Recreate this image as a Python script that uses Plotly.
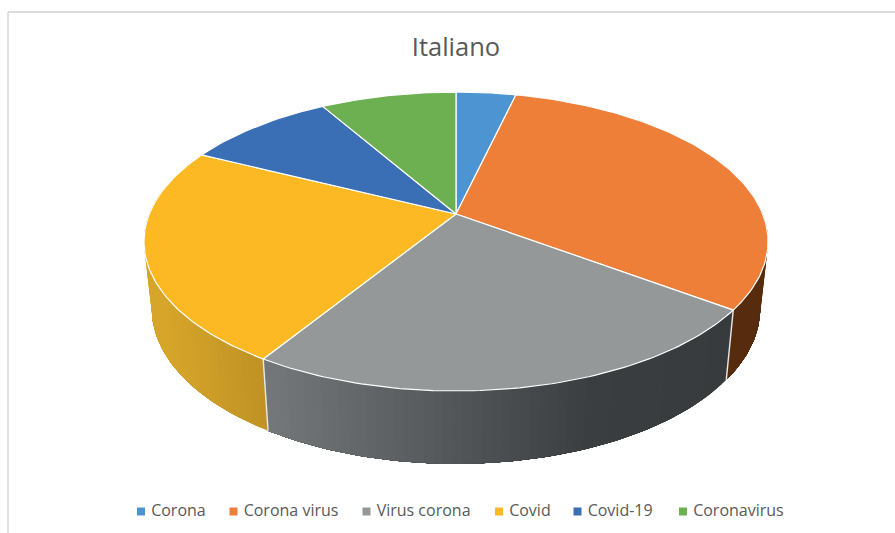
import numpy as np
import plotly.graph_objects as go

# Share of mentions per term
labels = ["Corona", "Corona virus", "Virus corona", "Covid", "Covid-19", "Coronavirus"]
values = [3.7, 31.4, 23.8, 23.4, 9.3, 8.4]
top_colors = ["#4c94d2", "#ee7f38", "#959898", "#fdb924", "#3a6eb5", "#6db052"]

# Side-wall shading, first stop at the clockwise start of each slice
wall_stops = {
    "Corona virus": [(0.0, "#572c0e"), (1.0, "#572c0e")],
    "Virus corona": [(0.0, "#373b3d"), (0.3, "#3b3e40"), (1.0, "#74787a")],
    "Covid": [(0.0, "#bf9224"), (1.0, "#d6a52a")],
}

# Legend layout: swatch positions in page pixels
legend_swatch_x = [141, 233.5, 366.5, 499, 577.5, 683]
legend_y = 511.5

# Perspective projection of the pie disc onto the page
CX, CY = 456.0, 214.0
RX, RY = 306.7, 144.4
PERSP = 0.184
BASE_CY, BASE_RX, BASE_RY = 280.0, 299.0, 150.0


def project(theta, cy=CY, rx=RX, ry=RY):
    """Clockwise angle from 12 o'clock to a point on a rim."""
    w = 1 + PERSP * np.cos(theta)
    return CX + rx * np.sin(theta) / w, cy - ry * np.cos(theta) / w


def project_base(theta):
    return project(theta, BASE_CY, BASE_RX, BASE_RY)


def hex_rgb(h):
    return np.array([int(h[i:i + 2], 16) for i in (1, 3, 5)], dtype=float)


def shade(stops, t):
    for (t0, c0), (t1, c1) in zip(stops, stops[1:]):
        if t <= t1:
            f = (t - t0) / (t1 - t0)
            r, g, b = hex_rgb(c0) * (1 - f) + hex_rgb(c1) * f
            return f"rgb({r:.0f},{g:.0f},{b:.0f})"
    r, g, b = hex_rgb(stops[-1][1])
    return f"rgb({r:.0f},{g:.0f},{b:.0f})"


shares = np.array(values) / sum(values)
edges = np.concatenate([[0], np.cumsum(shares)]) * 2 * np.pi
WALL_FROM, WALL_TO = np.radians(80), np.radians(280)

fig = go.Figure()

# Side walls: each narrow quad runs on to the end of the slice and the next one
# paints over it, which keeps the shading free of hairline gaps
for i, name in enumerate(labels):
    if name not in wall_stops:
        continue
    a0, a1 = max(edges[i], WALL_FROM), min(edges[i + 1], WALL_TO)
    steps = max(2, int(np.degrees(a1 - a0) / 1.5))
    cuts = np.linspace(a0, a1, steps + 1)
    xa, xb = project(a0)[0], project(a1)[0]
    for t0, t1 in zip(cuts, cuts[1:]):
        arc = np.linspace(t0, a1, max(2, int(np.degrees(a1 - t0)) + 2))
        tx, ty = project(arc)
        bx, by = project_base(arc)
        t = abs((project(t0)[0] + project(t1)[0]) / 2 - xa) / abs(xb - xa)
        col = shade(wall_stops[name], min(t, 1.0))
        fig.add_trace(go.Scatter(
            x=np.r_[tx, bx[::-1], tx[0]], y=np.r_[ty, by[::-1], ty[0]],
            mode="lines", fill="toself", fillcolor=col,
            line=dict(color=col, width=0),
            hoverinfo="skip", showlegend=False,
        ))

# White seams where neighbouring walls meet
for edge in edges[1:-1]:
    if WALL_FROM < edge < WALL_TO:
        x, y = project(edge)
        bx, by = project_base(edge)
        fig.add_trace(go.Scatter(
            x=[x, bx], y=[y, by], mode="lines",
            line=dict(color="#e8e8e8", width=1.4),
            hoverinfo="skip", showlegend=False,
        ))

# Top face of each slice
for i, name in enumerate(labels):
    arc = np.linspace(edges[i], edges[i + 1], max(8, int(shares[i] * 360)))
    ax, ay = project(arc)
    fig.add_trace(go.Scatter(
        x=np.r_[CX, ax, CX], y=np.r_[CY, ay, CY],
        mode="lines", fill="toself", fillcolor=top_colors[i],
        line=dict(color="#ffffff", width=1.2),
        name=name, text=f"{name}: {values[i]}%", hoverinfo="text",
        showlegend=False,
    ))

# Legend row
for i, name in enumerate(labels):
    fig.add_trace(go.Scatter(
        x=[legend_swatch_x[i]], y=[legend_y], mode="markers+text",
        marker=dict(symbol="square", size=8, color=top_colors[i]),
        text=[" " + name], textposition="middle right",
        textfont=dict(family="Open Sans", size=16, color="#595959"),
        hoverinfo="skip", showlegend=False, cliponaxis=False,
    ))

fig.update_layout(
    width=895, height=533,
    margin=dict(l=0, r=0, t=0, b=0),
    paper_bgcolor="#ffffff", plot_bgcolor="#ffffff",
    xaxis=dict(range=[0, 895], visible=False, fixedrange=True),
    yaxis=dict(range=[533, 0], visible=False, fixedrange=True),
    title=dict(
        text="Italiano", x=456 / 895, xanchor="center",
        y=1 - 47 / 533, yanchor="middle",
        font=dict(family="Open Sans", size=25.5, color="#595959"),
    ),
    shapes=[
        dict(type="line", xref="x", yref="y", x0=8, x1=895, y0=12, y1=12,
             line=dict(color="#d2d2d2", width=1.3), layer="below"),
        dict(type="line", xref="x", yref="y", x0=8, x1=8, y0=12, y1=533,
             line=dict(color="#d2d2d2", width=1.3), layer="below"),
    ],
)

fig.write_html("out.html")
